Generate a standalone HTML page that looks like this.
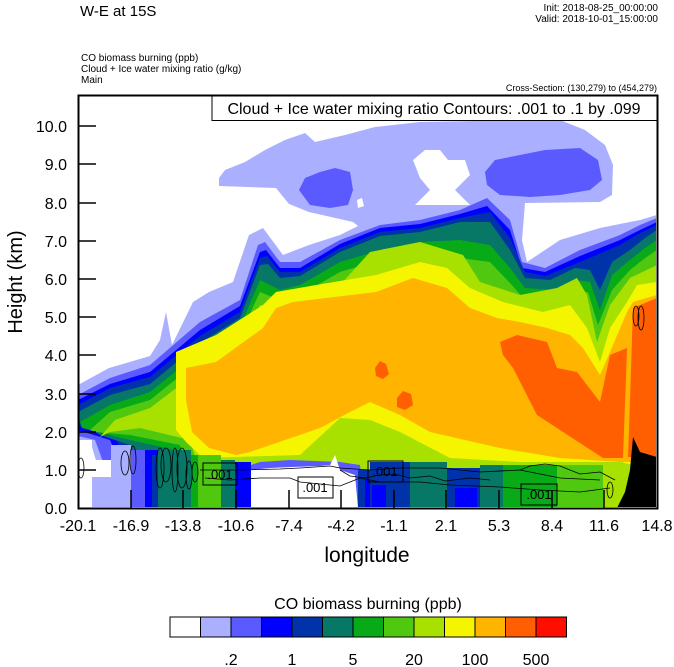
<!DOCTYPE html>
<html><head><meta charset="utf-8"><style>
html,body{margin:0;padding:0;background:#fff;}
svg{display:block;font-family:"Liberation Sans",Arial,sans-serif;}
</style></head><body>
<svg width="674" height="667" viewBox="0 0 674 667" xmlns="http://www.w3.org/2000/svg">
<rect width="674" height="667" fill="#fff"/>
<text x="80" y="16" font-size="15">W-E at 15S</text>
<text x="658" y="11" font-size="10" text-anchor="end">Init: 2018-08-25_00:00:00</text>
<text x="658" y="22" font-size="10" text-anchor="end">Valid: 2018-10-01_15:00:00</text>
<text x="81" y="61" font-size="10">CO biomass burning   (ppb)</text>
<text x="81" y="72" font-size="10">Cloud + Ice water mixing ratio    (g/kg)</text>
<text x="81" y="83" font-size="10">Main</text>
<text x="657" y="91" font-size="9" text-anchor="end">Cross-Section: (130,279) to (454,279)</text>

<clipPath id="pc"><rect x="79" y="96" width="577" height="411"/></clipPath>
<g clip-path="url(#pc)">
<polygon fill="#aab0ff" points="78,385 109,368 150,356 160,340 166,312 172,345 193,302 209,292 233,282 249,235 263,228 283,255 309,245 340,235 358,226 353,222 309,212 289,204 276,188 219,186 219,178 225,170 245,162 265,150 285,140 305,133 315,142 345,135 375,127 420,122 530,120 555,118 585,130 605,145 613,165 612,195 600,202 525,203 522,240 527,262 560,240 600,228 640,220 657,215 657,508 110,508 92,447 78,442"/>
<polygon fill="#fff" points="413,160 425,150 440,150 448,160 465,160 470,175 455,190 470,205 415,205 430,190 420,178"/>
<polygon fill="#fff" points="357,200 362,198 364,206 358,208"/>
<polygon fill="#5a5aff" points="299,190 305,178 320,172 335,168 350,172 353,190 348,205 330,208 310,205"/>
<polygon fill="#5a5aff" points="485,172 495,160 520,155 545,150 580,148 598,160 602,180 590,190 560,195 530,197 500,195 487,185"/>
<polygon fill="#5a5aff" points="78,395 110,378 150,365 200,322 240,300 258,245 265,242 280,262 300,262 340,240 380,225 420,220 460,210 487,198 510,220 522,262 545,268 580,250 620,235 640,225 657,218 657,508 120,508 95,440 78,436"/>
<polygon fill="#0000ff" points="78,400 110,384 150,372 200,330 240,306 260,252 266,250 280,268 300,268 340,244 380,228 420,224 460,214 487,206 510,230 522,268 545,272 580,256 620,240 640,230 657,222 657,508 140,508 110,440 78,430"/>
<polygon fill="#0033aa" points="78,405 110,388 150,377 200,336 240,312 260,258 267,256 280,272 300,272 340,248 380,232 420,228 460,218 490,212 510,238 525,272 545,276 580,262 620,245 640,233 657,225 657,508 150,508 115,437 78,426"/>
<polygon fill="#077766" points="78,412 110,395 150,384 200,343 240,318 260,265 268,264 280,278 300,276 340,252 380,236 420,232 460,222 490,222 510,250 525,278 550,280 575,268 590,270 600,290 612,262 630,250 645,238 657,230 657,508 158,508 130,445 100,435 78,420"/>
<polygon fill="#08aa18" points="80,422 110,405 150,392 200,352 240,327 260,280 280,290 300,285 340,262 380,250 420,242 460,240 490,245 510,268 525,288 555,290 575,280 590,282 600,310 612,275 630,260 645,248 657,240 657,508 191,508 175,450 130,440 82,428"/>
<polygon fill="#50c810" points="90,430 110,412 150,400 200,360 240,335 260,292 280,300 300,295 340,272 380,260 420,255 460,258 490,262 510,283 525,300 555,300 575,292 588,292 598,325 612,290 630,270 645,258 657,250 657,508 200,508 180,445 130,435 95,432"/>
<polygon fill="#a8e000" points="100,437 115,420 150,408 200,370 240,345 260,305 280,310 300,305 340,285 370,252 420,242 463,255 480,282 520,295 557,288 577,278 587,295 597,342 610,305 630,278 657,265 657,508 210,508 190,440 140,428 110,432"/>
<polygon fill="#f5f500" points="176,352 216,335 263,305 276,292 316,285 376,275 420,262 447,268 470,288 503,302 543,312 570,305 587,328 600,362 610,328 627,302 637,285 657,282 657,470 620,462 600,462 520,462 450,458 400,432 370,420 340,418 300,455 203,458 186,442 176,430"/>
<polygon fill="#ffb400" points="186,368 216,362 263,328 276,308 293,302 376,292 413,278 447,288 470,308 497,318 520,322 547,328 570,335 583,348 600,375 610,352 627,312 633,302 657,295 657,462 620,462 560,458 500,448 430,432 400,415 370,402 350,412 320,428 250,452 236,455 209,448 192,432 186,400"/>
<polygon fill="#ff5f00" points="500,342 517,335 547,342 557,368 577,372 600,402 610,355 627,348 623,458 603,458 537,415 513,368 503,355"/>
<polygon fill="#ff5f00" points="633,308 657,298 657,457 628,457 630,400"/>
<polygon fill="#ff5f00" points="375,368 380,361 386,364 389,374 383,379 376,376"/>
<polygon fill="#ff5f00" points="397,398 403,391 411,394 413,405 405,410 397,407"/>
<!-- surface layer -->
<rect x="78" y="440" width="14" height="70" fill="#fff"/>
<rect x="92" y="460" width="20" height="50" fill="#fff"/>
<rect x="92" y="477" width="19" height="33" fill="#aab0ff"/>
<rect x="111" y="445" width="20" height="65" fill="#aab0ff"/>
<rect x="131" y="450" width="14" height="60" fill="#5a5aff"/>
<rect x="145" y="450" width="13" height="60" fill="#0000ff"/>
<rect x="152" y="455" width="6" height="55" fill="#0033aa"/>
<rect x="158" y="450" width="33" height="60" fill="#077766"/>
<rect x="191" y="455" width="7" height="55" fill="#08aa18"/>
<rect x="198" y="455" width="23" height="55" fill="#50c810"/>
<rect x="221" y="460" width="14" height="50" fill="#077766"/>
<rect x="235" y="462" width="16" height="48" fill="#0000ff"/>
<polygon fill="#5a5aff" points="251,465 260,462 290,460 340,462 360,465 365,508 251,508"/>
<polygon fill="#fff" points="251,470 270,468 291,467 320,466 330,465 335,455 340,470 355,475 358,508 251,508"/>
<rect x="358" y="470" width="20" height="40" fill="#0033aa"/>
<rect x="365" y="480" width="20" height="30" fill="#0000ff"/>
<rect x="370" y="462" width="40" height="48" fill="#0033aa"/>
<rect x="372" y="485" width="14" height="25" fill="#0000ff"/>
<rect x="410" y="462" width="37" height="48" fill="#077766"/>
<rect x="447" y="468" width="33" height="42" fill="#0033aa"/>
<rect x="455" y="488" width="22" height="22" fill="#0000ff"/>
<rect x="480" y="465" width="23" height="45" fill="#077766"/>
<rect x="503" y="465" width="54" height="45" fill="#08aa18"/>
<rect x="557" y="465" width="46" height="45" fill="#50c810"/>
<rect x="603" y="462" width="20" height="48" fill="#a8e000"/>
<polygon fill="#000" points="617,508 625,492 630,470 633,437 640,452 650,455 657,457 657,508"/>
<g fill="none" stroke="#000" stroke-width="0.8">
<ellipse cx="81" cy="468" rx="3" ry="10"/>
<ellipse cx="125" cy="463" rx="4" ry="12"/>
<ellipse cx="133" cy="460" rx="3" ry="14"/>
<ellipse cx="160" cy="468" rx="4" ry="20"/>
<ellipse cx="166" cy="465" rx="5" ry="17"/>
<ellipse cx="175" cy="470" rx="3" ry="22"/>
<ellipse cx="182" cy="468" rx="5" ry="20"/>
<ellipse cx="189" cy="475" rx="3" ry="14"/>
<ellipse cx="195" cy="472" rx="3" ry="10"/>
<polyline points="200,470 240,470 280,469 300,468 330,466 340,468 370,470 400,468 440,468 480,472 520,470 560,478 600,480"/>
<polyline points="205,478 230,480 260,478 290,478 300,482 340,486 360,478 380,482 420,482 450,485 500,487 540,490 580,492 610,488"/>
<polyline points="340,470 350,476 365,478 380,475 395,474 410,478 430,476 445,481 470,478 490,480"/>
<polyline points="520,470 530,466 545,464 560,466 580,474 600,472 615,480"/>
<ellipse cx="610" cy="490" rx="3" ry="8"/>
<ellipse cx="636" cy="316" rx="3" ry="10"/>
<ellipse cx="641" cy="318" rx="3" ry="12"/>
</g>
<g fill="none" stroke="#000" stroke-width="1">
<rect x="203" y="463" width="34" height="22"/>
<rect x="298" y="477" width="35" height="21"/>
<rect x="368" y="461" width="35" height="21"/>
<rect x="521" y="484" width="36" height="21"/>
</g>
<g font-size="13" fill="#000">
<text x="220" y="479" text-anchor="middle">.001</text>
<text x="315" y="492" text-anchor="middle">.001</text>
<text x="385" y="476" text-anchor="middle">.001</text>
<text x="539" y="499" text-anchor="middle">.001</text>
</g>
</g>

<rect x="212" y="95.5" width="445" height="25" fill="#fff" stroke="#000" stroke-width="1"/>
<text x="434" y="114" font-size="16" text-anchor="middle">Cloud + Ice water mixing ratio Contours: .001 to .1 by .099</text>

<rect x="78.5" y="95.5" width="579" height="413" fill="none" stroke="#000" stroke-width="2"/>
<g stroke="#000" stroke-width="1.5">
<line x1="79" y1="126" x2="96" y2="126"/><line x1="79" y1="164" x2="96" y2="164"/>
<line x1="79" y1="203" x2="96" y2="203"/><line x1="79" y1="241" x2="96" y2="241"/>
<line x1="79" y1="279" x2="96" y2="279"/><line x1="79" y1="317" x2="96" y2="317"/>
<line x1="79" y1="355" x2="96" y2="355"/><line x1="79" y1="394" x2="96" y2="394"/>
<line x1="79" y1="432" x2="96" y2="432"/><line x1="79" y1="470" x2="96" y2="470"/>
<line x1="131" y1="508" x2="131" y2="490"/><line x1="183" y1="508" x2="183" y2="490"/>
<line x1="236" y1="508" x2="236" y2="490"/><line x1="289" y1="508" x2="289" y2="490"/>
<line x1="341" y1="508" x2="341" y2="490"/><line x1="394" y1="508" x2="394" y2="490"/>
<line x1="446" y1="508" x2="446" y2="490"/><line x1="499" y1="508" x2="499" y2="490"/>
<line x1="552" y1="508" x2="552" y2="490"/><line x1="604" y1="508" x2="604" y2="490"/>
</g>
<g font-size="16" text-anchor="end">
<text x="67" y="132">10.0</text><text x="67" y="170">9.0</text><text x="67" y="209">8.0</text>
<text x="67" y="247">7.0</text><text x="67" y="285">6.0</text><text x="67" y="323">5.0</text>
<text x="67" y="361">4.0</text><text x="67" y="400">3.0</text><text x="67" y="438">2.0</text>
<text x="67" y="476">1.0</text><text x="67" y="514">0.0</text>
</g>
<g font-size="16" text-anchor="middle">
<text x="78" y="531">-20.1</text><text x="131" y="531">-16.9</text><text x="183" y="531">-13.8</text>
<text x="236" y="531">-10.6</text><text x="289" y="531">-7.4</text><text x="341" y="531">-4.2</text>
<text x="394" y="531">-1.1</text><text x="446" y="531">2.1</text><text x="499" y="531">5.3</text>
<text x="552" y="531">8.4</text><text x="604" y="531">11.6</text><text x="657" y="531">14.8</text>
</g>
<text x="367" y="562" font-size="21" text-anchor="middle">longitude</text>
<text transform="translate(22,282) rotate(-90)" font-size="20" text-anchor="middle">Height (km)</text>

<text x="368" y="609" font-size="16" text-anchor="middle">CO biomass burning  (ppb)</text>
<g stroke="#000" stroke-width="1">
<rect x="170" y="617" width="30.5" height="20" fill="#fff"/>
<rect x="200.5" y="617" width="30.5" height="20" fill="#aab0ff"/>
<rect x="231" y="617" width="30.5" height="20" fill="#5a5aff"/>
<rect x="261.5" y="617" width="30.5" height="20" fill="#0000ff"/>
<rect x="292" y="617" width="30.5" height="20" fill="#0033aa"/>
<rect x="322.5" y="617" width="30.5" height="20" fill="#077766"/>
<rect x="353" y="617" width="30.5" height="20" fill="#08aa18"/>
<rect x="383.5" y="617" width="30.5" height="20" fill="#50c810"/>
<rect x="414" y="617" width="30.5" height="20" fill="#a8e000"/>
<rect x="444.5" y="617" width="30.5" height="20" fill="#f5f500"/>
<rect x="475" y="617" width="30.5" height="20" fill="#ffb400"/>
<rect x="505.5" y="617" width="30.5" height="20" fill="#ff5f00"/>
<rect x="536" y="617" width="30.5" height="20" fill="#ff0e00"/>
</g>
<g font-size="16" text-anchor="middle">
<text x="231" y="665">.2</text><text x="292" y="665">1</text><text x="353" y="665">5</text>
<text x="414" y="665">20</text><text x="475" y="665">100</text><text x="536" y="665">500</text>
</g>
</svg>
</body></html>
